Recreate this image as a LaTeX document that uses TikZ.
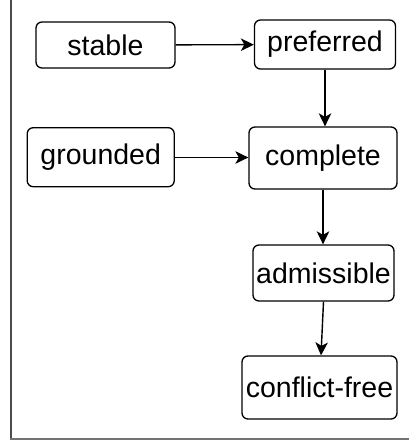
\documentclass[tikz,border=0pt]{standalone}
\usepackage{fontspec}
\setmainfont{Liberation Sans}
\usetikzlibrary{arrows.meta}
\begin{document}
\begin{tikzpicture}[x=1pt,y=-1pt,
  semantics/.style={draw=black, line width=1.3pt, rounded corners=6pt,
    inner sep=0pt, font=\fontsize{28.5}{28.5}\selectfont, text=black},
  implies/.style={draw=black, line width=1.4pt,
    -{Stealth[length=13pt,width=12.5pt,inset=3.5pt]}}]
  \useasboundingbox (0,0) rectangle (409,443);
  % page frame
  \draw[draw=black!70, line width=1.5pt] (10.75,0) -- (10.75,439);
  \draw[draw=black!55, line width=2.5pt] (10,438.75) -- (409,438.75);
  % semantics boxes
  \node[semantics, minimum width=139pt, minimum height=46pt] (stable) at (105.5,45) {stable};
  \node[semantics, minimum width=141pt, minimum height=49pt] (preferred) at (325,44.5) {preferred};
  \node[semantics, minimum width=147pt, minimum height=59pt] (grounded) at (100.7,157.2) {grounded};
  \node[semantics, minimum width=148pt, minimum height=62pt] (complete) at (323,158) {complete};
  \node[semantics, minimum width=141pt, minimum height=56pt] (admissible) at (323.5,273) {admissible};
  \node[semantics, minimum width=155pt, minimum height=63pt] (conflictfree) at (319.5,387.5) {conflict-free};
  % inclusions
  \draw[implies] (stable) -- (preferred);
  \draw[implies] (preferred.south) -- (preferred.south |- complete.north);
  \draw[implies] (grounded.east |- 0,157.5) -- (complete.west |- 0,157.5);
  \draw[implies] (complete.south) -- (complete.south |- admissible.north);
  \draw[implies] (admissible.south) -- (conflictfree.north -| 321,0);
\end{tikzpicture}
\end{document}
